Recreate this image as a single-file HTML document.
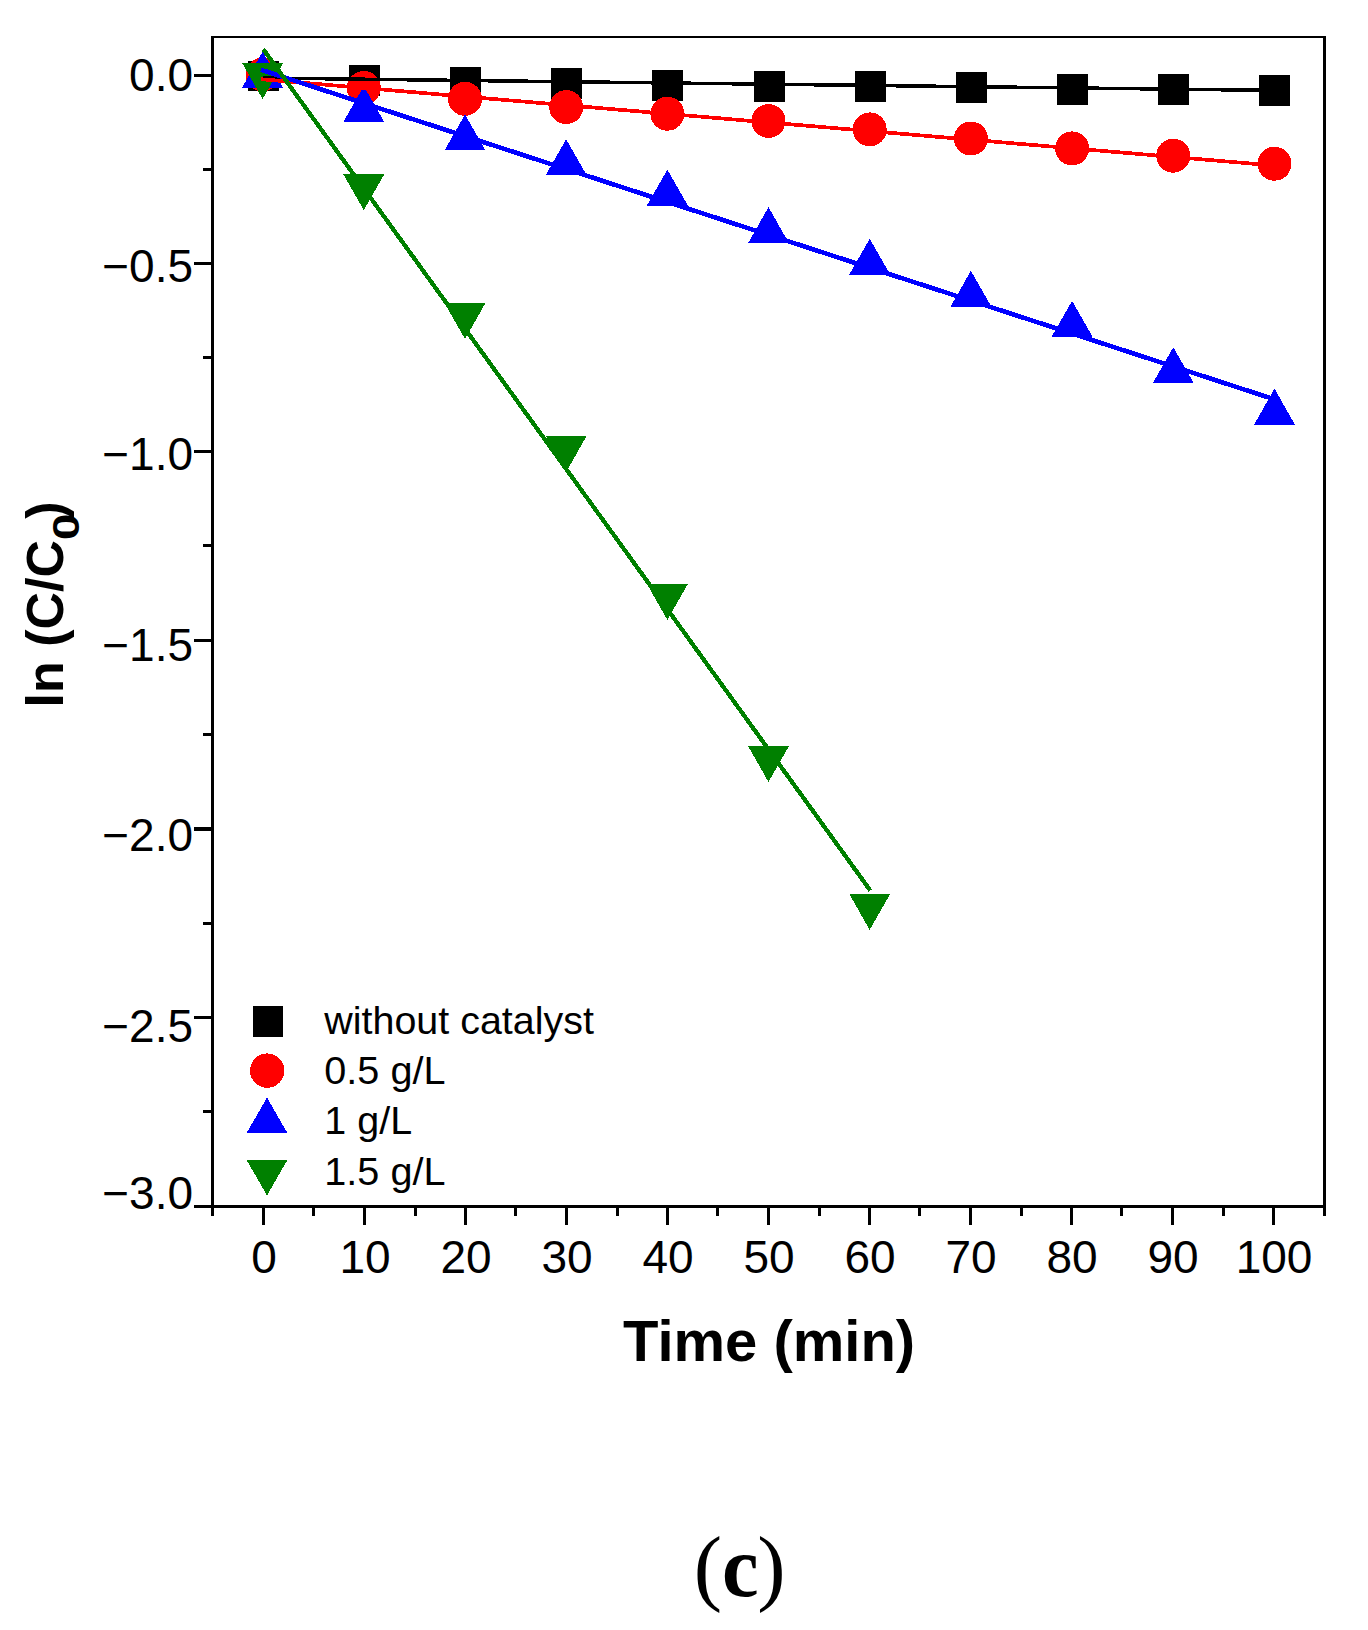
<!DOCTYPE html>
<html lang="en"><head><meta charset="utf-8"><title>(c)</title>
<style>
html,body{margin:0;padding:0;background:#fff;}
body{width:1368px;height:1630px;overflow:hidden;}
svg{display:block;}
text{font-family:"Liberation Sans",Arial,Helvetica,sans-serif;fill:#000;}
.tick{font-size:46px;}
.leg{font-size:39px;}
.ttl{font-weight:bold;}
.cap{font-family:"Liberation Serif","DejaVu Serif",serif;}
</style></head><body>
<svg width="1368" height="1630" viewBox="0 0 1368 1630">
<rect x="0" y="0" width="1368" height="1630" fill="#fff"/>
<g shape-rendering="crispEdges" fill="#000">
<rect x="211" y="36" width="3" height="1180"/>
<rect x="1323" y="36" width="3" height="1180"/>
<rect x="211" y="36" width="1115" height="2"/>
<rect x="194" y="1205" width="1132" height="3"/>
<rect x="194" y="74" width="17" height="3"/>
<rect x="194" y="262" width="17" height="3"/>
<rect x="194" y="450" width="17" height="3"/>
<rect x="194" y="639" width="17" height="3"/>
<rect x="194" y="827" width="17" height="4"/>
<rect x="194" y="1016" width="17" height="3"/>
<rect x="203" y="168" width="8" height="3"/>
<rect x="203" y="356" width="8" height="3"/>
<rect x="203" y="544" width="8" height="3"/>
<rect x="203" y="733" width="8" height="3"/>
<rect x="203" y="922" width="8" height="3"/>
<rect x="203" y="1110" width="8" height="3"/>
<rect x="262" y="1208" width="3" height="17"/>
<rect x="363" y="1208" width="3" height="17"/>
<rect x="464" y="1208" width="3" height="17"/>
<rect x="565" y="1208" width="3" height="17"/>
<rect x="666" y="1208" width="3" height="17"/>
<rect x="767" y="1208" width="3" height="17"/>
<rect x="868" y="1208" width="3" height="17"/>
<rect x="969" y="1208" width="3" height="17"/>
<rect x="1070" y="1208" width="3" height="17"/>
<rect x="1171" y="1208" width="3" height="17"/>
<rect x="1272" y="1208" width="3" height="17"/>
<rect x="312" y="1208" width="3" height="8"/>
<rect x="414" y="1208" width="3" height="8"/>
<rect x="514" y="1208" width="3" height="8"/>
<rect x="616" y="1208" width="3" height="8"/>
<rect x="716" y="1208" width="3" height="8"/>
<rect x="818" y="1208" width="3" height="8"/>
<rect x="918" y="1208" width="3" height="8"/>
<rect x="1020" y="1208" width="3" height="8"/>
<rect x="1120" y="1208" width="3" height="8"/>
<rect x="1222" y="1208" width="3" height="8"/>
</g>
<g shape-rendering="crispEdges">
<rect x="248" y="61" width="31" height="30" fill="#000"/>
<rect x="349.1" y="64.9" width="31" height="31" fill="#000"/>
<rect x="450.2" y="66.7" width="31" height="31" fill="#000"/>
<rect x="551.3" y="68.1" width="31" height="31" fill="#000"/>
<rect x="652.4" y="69.5" width="31" height="31" fill="#000"/>
<rect x="753.5" y="70.8" width="31" height="31" fill="#000"/>
<rect x="854.6" y="71.1" width="31" height="31" fill="#000"/>
<rect x="955.7" y="71.8" width="31" height="31" fill="#000"/>
<rect x="1056.8" y="73.5" width="31" height="31" fill="#000"/>
<rect x="1157.9" y="74.0" width="31" height="31" fill="#000"/>
<rect x="1259.0" y="75.1" width="31" height="31" fill="#000"/>
<circle cx="262.6" cy="74.5" r="17.0" fill="#f00"/>
<circle cx="363.8" cy="88.0" r="17.0" fill="#f00"/>
<circle cx="465.0" cy="98.8" r="17.0" fill="#f00"/>
<circle cx="566.2" cy="107.1" r="17.0" fill="#f00"/>
<circle cx="667.4" cy="113.7" r="17.0" fill="#f00"/>
<circle cx="768.5" cy="121.0" r="17.0" fill="#f00"/>
<circle cx="869.7" cy="129.4" r="17.0" fill="#f00"/>
<circle cx="970.9" cy="138.5" r="17.0" fill="#f00"/>
<circle cx="1072.1" cy="148.4" r="17.0" fill="#f00"/>
<circle cx="1173.3" cy="155.7" r="17.0" fill="#f00"/>
<circle cx="1274.5" cy="163.7" r="17.0" fill="#f00"/>
<polygon points="262.6,51.7 242.1,87.7 283.1,87.7" fill="#00f"/>
<polygon points="363.8,86.0 343.3,122.0 384.3,122.0" fill="#00f"/>
<polygon points="465.0,114.4 444.5,150.4 485.5,150.4" fill="#00f"/>
<polygon points="566.2,139.2 545.7,175.2 586.7,175.2" fill="#00f"/>
<polygon points="667.4,169.6 646.9,205.6 687.9,205.6" fill="#00f"/>
<polygon points="768.5,207.2 748.0,243.2 789.0,243.2" fill="#00f"/>
<polygon points="869.7,238.7 849.2,274.7 890.2,274.7" fill="#00f"/>
<polygon points="970.9,270.8 950.4,306.8 991.4,306.8" fill="#00f"/>
<polygon points="1072.1,300.8 1051.6,336.8 1092.6,336.8" fill="#00f"/>
<polygon points="1173.3,347.2 1152.8,383.2 1193.8,383.2" fill="#00f"/>
<polygon points="1274.5,388.7 1254.0,424.7 1295.0,424.7" fill="#00f"/>
<polygon points="242.1,63.0 283.1,63.0 262.6,99.0" fill="#008000"/>
<polygon points="343.3,174.2 384.3,174.2 363.8,210.2" fill="#008000"/>
<polygon points="444.5,303.0 485.5,303.0 465.0,339.0" fill="#008000"/>
<polygon points="545.7,435.9 586.7,435.9 566.2,471.9" fill="#008000"/>
<polygon points="646.9,583.9 687.9,583.9 667.4,619.9" fill="#008000"/>
<polygon points="748.0,746.0 789.0,746.0 768.5,782.0" fill="#008000"/>
<polygon points="849.2,893.9 890.2,893.9 869.7,929.9" fill="#008000"/>
<line x1="263" y1="78" x2="1274" y2="90.4" stroke="#000" stroke-width="3.5"/>
<line x1="261" y1="79.2" x2="1274" y2="165.5" stroke="#f00" stroke-width="3.7"/>
<line x1="261" y1="69.8" x2="1274" y2="399.2" stroke="#00f" stroke-width="4.6"/>
<line x1="263.3" y1="49.2" x2="870.3" y2="890.5" stroke="#008000" stroke-width="4.3"/>
<rect x="253" y="1006" width="30" height="31" fill="#000"/>
<circle cx="267.2" cy="1070.6" r="17.2" fill="#f00"/>
<polygon points="267,1097.6 246.6,1133 287.4,1133" fill="#00f"/>
<polygon points="246.6,1160 287.4,1160 267,1195.4" fill="#008000"/>
</g>
<text class="tick" x="193" y="90.5" text-anchor="end">0.0</text>
<text class="tick" x="193" y="281.5" text-anchor="end">−0.5</text>
<text class="tick" x="193" y="470.0" text-anchor="end">−1.0</text>
<text class="tick" x="193" y="660.5" text-anchor="end">−1.5</text>
<text class="tick" x="193" y="850.5" text-anchor="end">−2.0</text>
<text class="tick" x="193" y="1041.5" text-anchor="end">−2.5</text>
<text class="tick" x="193" y="1209.0" text-anchor="end">−3.0</text>
<text class="tick" x="264.0" y="1272.8" text-anchor="middle">0</text>
<text class="tick" x="365.0" y="1272.8" text-anchor="middle">10</text>
<text class="tick" x="466.0" y="1272.8" text-anchor="middle">20</text>
<text class="tick" x="567.0" y="1272.8" text-anchor="middle">30</text>
<text class="tick" x="668.0" y="1272.8" text-anchor="middle">40</text>
<text class="tick" x="769.0" y="1272.8" text-anchor="middle">50</text>
<text class="tick" x="870.0" y="1272.8" text-anchor="middle">60</text>
<text class="tick" x="971.0" y="1272.8" text-anchor="middle">70</text>
<text class="tick" x="1072.0" y="1272.8" text-anchor="middle">80</text>
<text class="tick" x="1173.0" y="1272.8" text-anchor="middle">90</text>
<text class="tick" x="1274.0" y="1272.8" text-anchor="middle">100</text>
<text class="leg" x="324.3" y="1033.9" textLength="269.6" lengthAdjust="spacingAndGlyphs">without catalyst</text>
<text class="leg" x="324.3" y="1083.8" textLength="121.2" lengthAdjust="spacingAndGlyphs">0.5 g/L</text>
<text class="leg" x="324.3" y="1134.3" textLength="87.8" lengthAdjust="spacingAndGlyphs">1 g/L</text>
<text class="leg" x="324.3" y="1185.2" textLength="121.2" lengthAdjust="spacingAndGlyphs">1.5 g/L</text>
<text class="ttl" x="623" y="1360.8" font-size="58">Time (min)</text>
<g transform="translate(63.2,707.5) rotate(-90)">
<text class="ttl" x="0" y="0" font-size="52">ln (C/C</text>
<text class="ttl" x="167.6" y="15.8" font-size="36" textLength="26.4" lengthAdjust="spacingAndGlyphs">0</text>
<text class="ttl" x="188.8" y="0" font-size="52">)</text>
</g>
<text class="cap" font-size="85"><tspan x="693.8" y="1595">(</tspan><tspan x="722" y="1596" font-weight="bold" font-size="86" textLength="36.6" lengthAdjust="spacingAndGlyphs">c</tspan><tspan x="757.2" y="1595">)</tspan></text>
</svg>
</body></html>
